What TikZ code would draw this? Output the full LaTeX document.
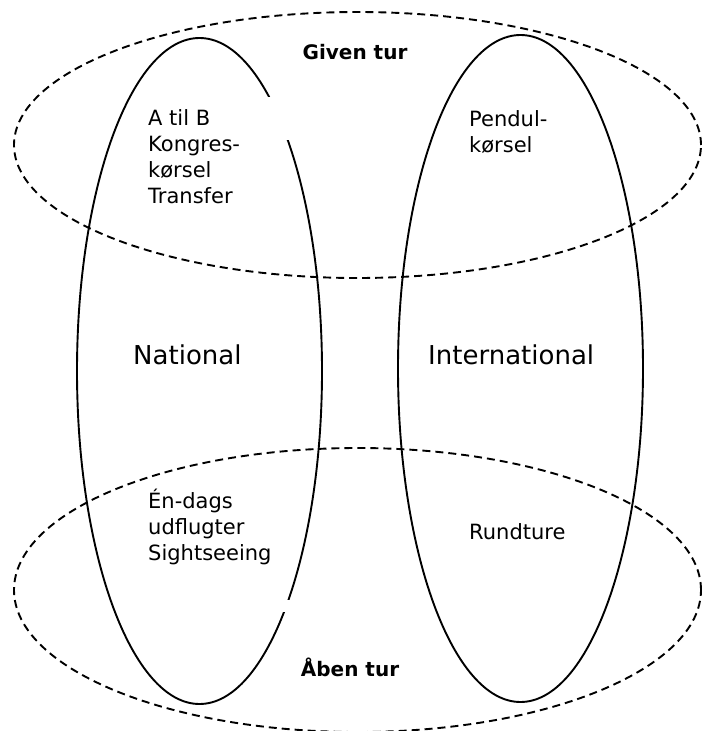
\documentclass[tikz,border=0pt]{standalone}
\usepackage{fontspec}
\setmainfont{DejaVu Sans}
\begin{document}
\begin{tikzpicture}[x=1pt,y=-1pt,
	ring/.style={line width=1.9pt},
	trip/.style={line width=1.9pt,dash pattern=on 8pt off 5pt},
	triptext/.style={anchor=base west,inner sep=0pt,align=left,
		font=\fontsize{21}{25.7}\selectfont},
	turhead/.style={anchor=base,inner sep=0pt,font=\fontsize{20}{24}\selectfont\bfseries},
	areatext/.style={anchor=base west,inner sep=0pt,font=\fontsize{26}{30}\selectfont}]
	\useasboundingbox (0,0) rectangle (702,731);
	
	\draw[trip] (357.5,145) ellipse [x radius=343.5pt, y radius=133pt];
	\draw[trip] (357.5,590) ellipse [x radius=343.5pt, y radius=142pt];
	\draw[ring] (199.5,371) ellipse [x radius=122.5pt, y radius=333pt];
	\draw[ring] (520.5,368.5) ellipse [x radius=122.5pt, y radius=333.5pt];
	% openings in the national ring
	\fill[white] (262,97) rectangle (296,140);
	\fill[white] (278,600) rectangle (294,612);
	
	\node[turhead] (given) at (355,59) {Given tur};
	\node[turhead] (aaben) at (350,676) {Åben tur};
	\node[areatext] (national) at (133,364) {National};
	\node[areatext] (international) at (428,364) {International};
	
	% base is the last line
	\node[triptext] (atilb) at (148,203) {A til B\\Kongres-\\kørsel\\Transfer};
	\node[triptext] (pendul) at (469,152) {Pendul-\\kørsel};
	\node[triptext] (endags) at (148,560) {Én-dags\\udflugter\\Sightseeing};
	\node[triptext] (rundture) at (469,539) {Rundture};
\end{tikzpicture}
\end{document}
